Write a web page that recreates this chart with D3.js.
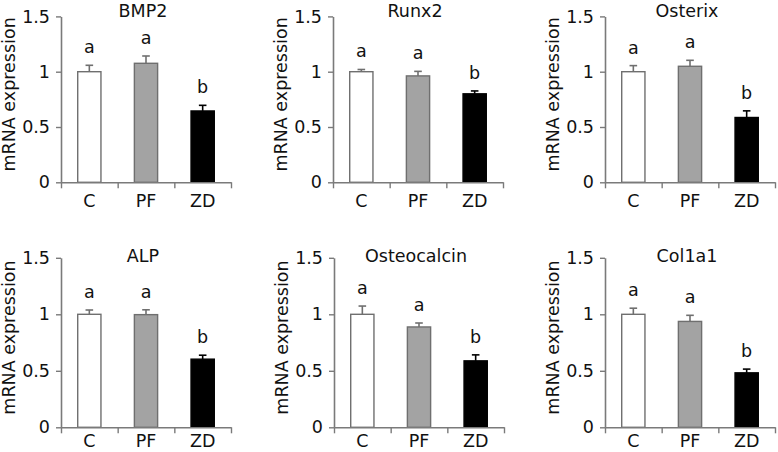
<!DOCTYPE html>
<html>
<head>
<meta charset="utf-8">
<script src="https://cdn.jsdelivr.net/npm/d3@7/dist/d3.min.js"></script>
<style>
  html, body { margin: 0; padding: 0; background: #fff; }
  svg { display: block; }
  text { font-family: "DejaVu Sans", Verdana, sans-serif; fill: #111; }
</style>
</head>
<body>
<svg id="chart" width="778" height="452"></svg>
<script>
// ---- data ----
const categories = ["C", "PF", "ZD"];
const genes = ["BMP2", "Runx2", "Osterix", "ALP", "Osteocalcin", "Col1a1"];
const means = [
  [1.00, 1.076, 0.645],
  [1.00, 0.962, 0.800],
  [1.00, 1.049, 0.586],
  [1.00, 0.997, 0.603],
  [1.00, 0.888, 0.588],
  [1.00, 0.937, 0.482]
];
const errors = [
  [0.058, 0.066, 0.051],
  [0.020, 0.041, 0.026],
  [0.055, 0.054, 0.060],
  [0.038, 0.043, 0.035],
  [0.073, 0.035, 0.053],
  [0.054, 0.054, 0.033]
];
const letters = [
  ["a", "a", "b"],
  ["a", "a", "b"],
  ["a", "a", "b"],
  ["a", "a", "b"],
  ["a", "a", "b"],
  ["a", "a", "b"]
];
const yTicks = [0, 0.5, 1, 1.5];
const yLabel = "mRNA expression";

// ---- layout ----
const panelLeft = [[61, 333, 605], [61, 334, 605]];
const panelBottom = [182.3, 427.3];
const panelTop = [16.4, 257.8];
const labelGap = [25, 20];
const plotW = 170;
const fills = ["#ffffff", "#a3a3a3", "#000000"];
const strokes = ["#6f6f6f", "#6f6f6f", "#000000"];
const axisColor = "#7a7a7a";
const fs = 17.5;

const svg = d3.select("#chart");

genes.forEach((gene, i) => {
  const row = Math.floor(i / 3), col = i % 3;
  const x0 = panelLeft[row][col];
  const yB = panelBottom[row], yT = panelTop[row];
  const g = svg.append("g").attr("transform", `translate(${x0},0)`);

  const y = d3.scaleLinear().domain([0, 1.5]).range([yB, yT]);
  const xb = d3.scaleBand().domain(categories).range([0, plotW]).padding(0);
  const xl = d3.scaleLinear().domain([0, categories.length]).range([0, plotW]);
  const bw = xb.bandwidth() * 0.41;

  // bars
  categories.forEach((c, j) => {
    const cx = xb(c) + xb.bandwidth() / 2;
    const v = means[i][j], e = errors[i][j];
    g.append("line")
      .attr("x1", cx).attr("x2", cx)
      .attr("y1", y(v)).attr("y2", y(v + e))
      .attr("stroke", strokes[j]).attr("stroke-width", 1.6);
    g.append("line")
      .attr("x1", cx - 3.8).attr("x2", cx + 3.8)
      .attr("y1", y(v + e)).attr("y2", y(v + e))
      .attr("stroke", strokes[j]).attr("stroke-width", 1.6);
    g.append("rect")
      .attr("x", cx - bw / 2).attr("width", bw)
      .attr("y", y(v)).attr("height", y(0) - y(v))
      .attr("fill", fills[j]).attr("stroke", strokes[j]).attr("stroke-width", 1.4);
    g.append("text")
      .attr("x", cx).attr("y", y(v + e) - 12)
      .attr("text-anchor", "middle").attr("font-size", fs)
      .text(letters[i][j]);
  });

  // y axis
  const ya = g.append("g")
    .call(d3.axisLeft(y).tickValues(yTicks).tickSize(5).tickPadding(6).tickSizeOuter(0).tickFormat(d => String(d)));
  ya.select(".domain").attr("stroke", axisColor).attr("stroke-width", 1.6);
  ya.selectAll(".tick line").attr("stroke", axisColor).attr("stroke-width", 1.4);
  ya.selectAll(".tick text").attr("font-size", fs).attr("font-family", "DejaVu Sans, sans-serif").attr("fill", "#111");

  // x axis
  const xa = g.append("g").attr("transform", `translate(0,${yB})`)
    .call(d3.axisBottom(xl).tickValues(d3.range(categories.length + 1)).tickSize(6).tickSizeOuter(0).tickFormat(""));
  xa.select(".domain").attr("stroke", axisColor).attr("stroke-width", 1.6);
  xa.selectAll(".tick line").attr("stroke", axisColor).attr("stroke-width", 1.4);

  // x labels
  categories.forEach(c => {
    g.append("text")
      .attr("x", xb(c) + xb.bandwidth() / 2).attr("y", yB + labelGap[row])
      .attr("text-anchor", "middle").attr("font-size", fs)
      .text(c);
  });

  // title
  g.append("text")
    .attr("x", plotW / 2 - 3).attr("y", yT + 0.5 + (row === 1 ? 4 : 0))
    .attr("text-anchor", "middle").attr("font-size", fs)
    .text(gene);

  // y label
  g.append("text")
    .attr("transform", `translate(-46,${(yB + yT) / 2 - 5}) rotate(-90)`)
    .attr("text-anchor", "middle").attr("font-size", 17.5)
    .text(yLabel);
});
</script>
</body>
</html>
